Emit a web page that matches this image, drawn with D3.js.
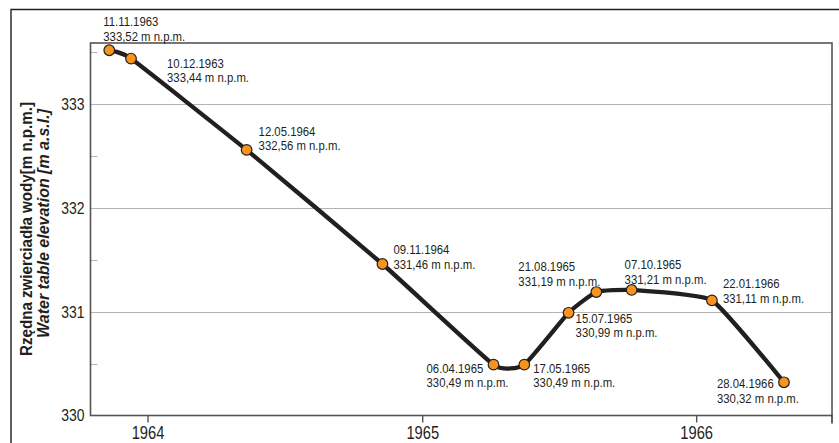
<!DOCTYPE html>
<html>
<head>
<meta charset="utf-8">
<script src="https://cdn.jsdelivr.net/npm/d3@7"></script>
<style>
  html, body { margin: 0; padding: 0; background: #fff; }
  svg { display: block; }
  .lbl { font-family: "Liberation Sans", Arial, Helvetica, sans-serif; fill: #231f20; }
</style>
</head>
<body>
<svg id="chart" width="839" height="443"></svg>
<script>
// Measurement dates and water table elevations (m n.p.m.)
const measureDates = ["1963-11-11", "1963-12-10", "1964-05-12", "1964-11-09", "1965-04-06",
                      "1965-05-17", "1965-07-15", "1965-08-21", "1965-10-07", "1966-01-22", "1966-04-28"];
const elevations = [333.52, 333.44, 332.56, 331.46, 330.49, 330.49, 330.99, 331.19, 331.21, 331.11, 330.32];

// Axis ticks
const yTicks = [330, 331, 332, 333];
const yMinorTicks = [330.5, 331.5, 332.5, 333.5];
const xTickYears = [1964, 1965, 1966];

// Axis titles
const yTitlePl = "Rzędna zwierciadła wody[m n.p.m.]";
const yTitleEn = "Water table elevation [m a.s.l.]";

// Annotation placement for each point: [dx, dy of first line baseline]
const labelOffsets = [[-6, -24], [36, 9], [12, -14], [11, -10], [-67, 8], [9, 8],
                      [7, 10], [-78, -21], [-7, -21], [11, -12], [-67, 6]];

const parse = d3.utcParse("%Y-%m-%d");
const fmtDate = d3.utcFormat("%d.%m.%Y");
const plLocale = d3.formatLocale({ decimal: ",", thousands: " ", grouping: [3], currency: ["", " zł"] });
const fmtVal = plLocale.format(".2f");

const data = measureDates.map((d, i) => ({ date: parse(d), value: elevations[i], off: labelOffsets[i] }));

const svg = d3.select("#chart");
const plotL = 90.5, plotR = 832, plotT = 43, plotB = 415.5;

// Condense a text run horizontally (narrow grotesque look)
function condense(sel, k = 0.82) {
  sel.each(function () {
    const w = this.getComputedTextLength();
    d3.select(this).attr("textLength", w * k).attr("lengthAdjust", "spacingAndGlyphs");
  });
}

const x = d3.scaleUtc()
  .domain([parse("1963-10-17"), parse("1966-07-01")])
  .range([plotL, plotR]);
const y = d3.scaleLinear()
  .domain([330, 333.59])
  .range([plotB, plotT]);

const dark = "#231f20";

// Outer frame (top and left edges)
svg.append("path")
  .attr("d", `M11,443 V9.5 H839`)
  .attr("fill", "none").attr("stroke", dark).attr("stroke-width", 1.4);

// Gridlines
svg.append("g").selectAll("line").data(yTicks.slice(1)).join("line")
  .attr("x1", plotL).attr("x2", plotR)
  .attr("y1", d => Math.round(y(d)) + 0.5).attr("y2", d => Math.round(y(d)) + 0.5)
  .attr("stroke", "#b3b3b3").attr("stroke-width", 1);

// Minor ticks inside the left axis
svg.append("g").selectAll("line").data(yMinorTicks).join("line")
  .attr("x1", plotL).attr("x2", plotL + 7)
  .attr("y1", d => Math.round(y(d)) + 0.5).attr("y2", d => Math.round(y(d)) + 0.5)
  .attr("stroke", "#b3b3b3").attr("stroke-width", 1);

// Plot frame
svg.append("rect")
  .attr("x", plotL).attr("y", plotT).attr("width", plotR - plotL).attr("height", plotB - plotT)
  .attr("fill", "none").attr("stroke", "#555").attr("stroke-width", 1.6);

// Right edge continues a little below the baseline
svg.append("line")
  .attr("x1", plotR).attr("x2", plotR).attr("y1", plotB).attr("y2", plotB + 8)
  .attr("stroke", dark).attr("stroke-width", 1.4);

// X axis
const xAxis = d3.axisBottom(x)
  .tickValues(xTickYears.map(yr => new Date(Date.UTC(yr, 0, 1))))
  .tickFormat(d3.utcFormat("%Y"))
  .tickSize(7).tickPadding(4);
const gx = svg.append("g").attr("transform", `translate(0,${plotB})`).call(xAxis);
gx.select(".domain").remove();
gx.selectAll(".tick line").attr("stroke", "#555").attr("stroke-width", 1.4);
gx.selectAll(".tick text").attr("class", "lbl").attr("font-size", 17.5).attr("fill", dark)
  .call(condense, 0.84);

// Y axis labels
const yAxis = d3.axisLeft(y).tickValues(yTicks).tickFormat(d3.format("d")).tickSize(0).tickPadding(6);
const gy = svg.append("g").attr("transform", `translate(${plotL},0)`).call(yAxis);
gy.select(".domain").remove();
gy.selectAll(".tick text").attr("class", "lbl").attr("font-size", 17).attr("fill", dark)
  .call(condense);

// Y axis title (two lines)
svg.append("text").attr("class", "lbl")
  .attr("transform", "translate(31.5,229) rotate(-90)")
  .attr("text-anchor", "middle").attr("font-size", 17).attr("font-weight", "bold")
  .attr("textLength", 254).attr("lengthAdjust", "spacingAndGlyphs")
  .text(yTitlePl);
svg.append("text").attr("class", "lbl")
  .attr("transform", "translate(49,223.5) rotate(-90)")
  .attr("text-anchor", "middle").attr("font-size", 17).attr("font-weight", "bold")
  .attr("font-style", "italic")
  .attr("textLength", 229).attr("lengthAdjust", "spacingAndGlyphs")
  .text(yTitleEn);

// Water table line
const line = d3.line()
  .x(d => x(d.date)).y(d => y(d.value))
  .curve(d3.curveCardinal.tension(0.6));
svg.append("path").datum(data)
  .attr("d", line)
  .attr("fill", "none").attr("stroke", dark).attr("stroke-width", 4.3)
  .attr("stroke-linejoin", "round").attr("stroke-linecap", "round");

// Measurement markers
svg.append("g").selectAll("circle").data(data).join("circle")
  .attr("cx", d => x(d.date)).attr("cy", d => y(d.value)).attr("r", 5.3)
  .attr("fill", "#f7941d").attr("stroke", dark).attr("stroke-width", 1.2);

// Annotations: date line and elevation line
const ann = svg.append("g").selectAll("g").data(data).join("g")
  .attr("transform", d => `translate(${x(d.date) + d.off[0]},${y(d.value) + d.off[1]})`);
ann.append("text").attr("class", "lbl").attr("font-size", 13.2)
  .attr("x", 0).attr("y", 0)
  .text(d => fmtDate(d.date))
  .call(condense, 0.86);
ann.append("text").attr("class", "lbl").attr("font-size", 13.2)
  .attr("x", 0).attr("y", 14.6)
  .text(d => `${fmtVal(d.value)} m n.p.m.`)
  .call(condense, 0.86);
</script>
</body>
</html>
